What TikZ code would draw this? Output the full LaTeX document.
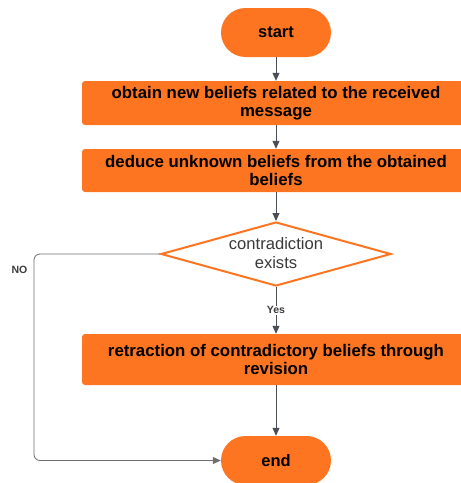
\documentclass[tikz,border=0pt]{standalone}
\usepackage{fontspec}
\setmainfont{Liberation Sans}
\usetikzlibrary{shapes.geometric,arrows.meta}
\definecolor{orng}{HTML}{FD7521}
\definecolor{arr}{HTML}{4A4F57}
\definecolor{noline}{HTML}{6E6E6E}
\definecolor{dtext}{HTML}{3A3A3A}
\begin{document}
\begin{tikzpicture}[x=1pt,y=-1pt,
  term/.style={fill=orng, draw=none, rounded corners=24.5pt, minimum width=110pt, minimum height=49pt, font=\bfseries\fontsize{16.5}{18}\selectfont, text=black},
  proc/.style={fill=orng, draw=none, rounded corners=3pt, minimum width=388pt, inner sep=0pt, align=center, font=\bfseries\fontsize{16.8}{18}\selectfont, text=black},
  dec/.style={diamond, draw=orng, line width=2pt, fill=white, minimum width=230pt, minimum height=64pt, inner sep=0pt},
  dectext/.style={align=center, inner sep=0pt, font=\fontsize{16.6}{19}\selectfont, text=dtext},
  conn/.style={draw=arr, line width=1pt, -{Triangle[length=8pt,width=7pt]}},
  lbl/.style={font=\bfseries\fontsize{10.5}{12}\selectfont, text=dtext}
]
\useasboundingbox (0,0) rectangle (461,483);
\clip (0,0) rectangle (461,483);
\node[term] (start) at (276,32.5) {start};
\node[proc, minimum height=44pt] (b1) at (276,103) {obtain new beliefs related to the received\\message};
\node[proc, minimum height=43pt] (b2) at (276,170.5) {deduce unknown beliefs from the obtained\\beliefs};
\node[dec] (d) at (276,254) {};
\node[dectext] (dt) at (276,253) {contradiction\\exists};
\node[proc, minimum height=51pt] (b3) at (276,359.5) {retraction of contradictory beliefs through\\revision};
\node[term] (end) at (276,460.5) {end};
\coordinate (c1) at (34,254);
\coordinate (c2) at (34,460.5);
\draw[conn] (start) -- (b1);
\draw[conn] (b1) -- (b2);
\draw[conn] (b2) -- (d);
\draw[conn] (d) -- node[lbl, fill=white, inner sep=1pt] (yes) {Yes} (b3);
\draw[conn] (b3) -- (end);
\draw[draw=noline, line width=0.8pt, rounded corners=6pt, -{Triangle[length=8pt,width=7pt]}] (d.west) -- (c1) -- (c2) -- (end.west);
\node[lbl] (no) at (19.5,270) {NO};
\end{tikzpicture}
\end{document}
